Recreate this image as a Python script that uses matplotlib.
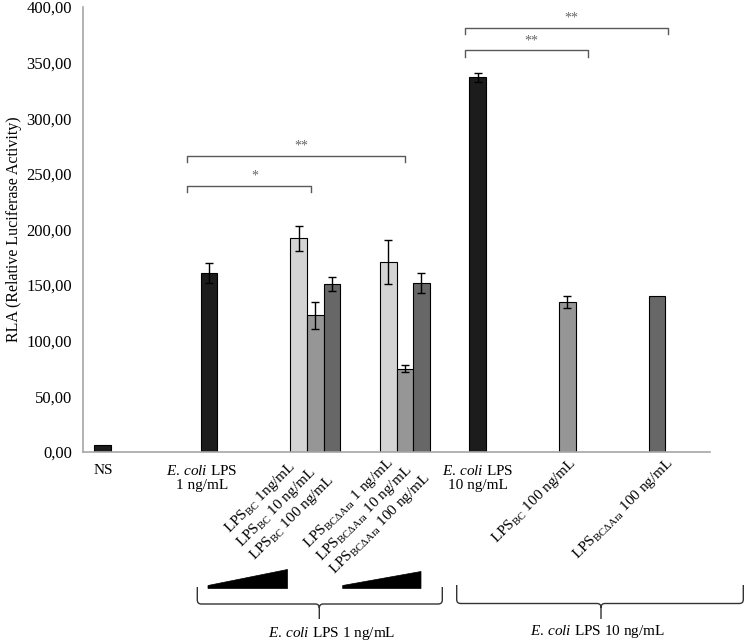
import matplotlib
matplotlib.use("Agg")
import matplotlib.pyplot as plt
from matplotlib.path import Path
from matplotlib.patches import PathPatch, Polygon
import numpy as np

plt.rcParams['font.family'] = ['Liberation Serif', 'DejaVu Serif']
plt.rcParams['mathtext.fontset'] = 'custom'
plt.rcParams['mathtext.rm'] = 'Liberation Serif'
plt.rcParams['mathtext.it'] = 'Liberation Serif:italic'

ECOLI = r"$\it{E.\,coli}$ LPS"

# data
bar_labels = [
    "NS",
    ECOLI + "\n1 ng/mL",
    r"LPS$_{\mathrm{BC}}$ 1ng/mL",
    r"LPS$_{\mathrm{BC}}$ 10 ng/mL",
    r"LPS$_{\mathrm{BC}}$ 100 ng/mL",
    r"LPS$_{\mathrm{BC\Delta Ara}}$ 1 ng/mL",
    r"LPS$_{\mathrm{BC\Delta Ara}}$ 10 ng/mL",
    r"LPS$_{\mathrm{BC\Delta Ara}}$ 100 ng/mL",
    ECOLI + "\n10 ng/mL",
    r"LPS$_{\mathrm{BC}}$ 100 ng/mL",
    r"LPS$_{\mathrm{BC\Delta Ara}}$ 100 ng/mL",
]
bar_cat = [0, 1, 2, 2, 2, 3, 3, 3, 4, 5, 6]
bar_slot = [0, 1, 1, 2, 3, 1, 2, 3, 1, 1, 1]
values = [6, 161, 192, 123, 151, 171, 75, 152, 337, 135, 140]
errors = [0, 9, 11, 12, 6, 20, 3.5, 9, 4, 5.5, 0]

# significance brackets: x start, x end, height, stars
sig_x0 = [1.16, 1.16, 4.26, 4.26]
sig_x1 = [2.55, 3.60, 5.64, 6.53]
sig_y = [239, 266, 361, 381]
sig_txt = ["*", "**", "**", "**"]

# styles
bar_colors = ['#1c1c1c', '#1c1c1c', '#d4d4d4', '#969696', '#676767',
              '#d4d4d4', '#969696', '#676767', '#1c1c1c', '#969696', '#676767']
# label offsets in px from (bar centre, axis line); rotated ones anchored top-right
lab_dx = [0, -7, -11, -8, -6, -3, -1, 1, 0, 1, 8]
lab_dy = [-12, -12, -6, -12, -20, -3, -10, -18, -12, -3, -3]
lab_rot = [0, 0, 45, 45, 45, 45, 45, 45, 0, 45, 45]

W, H = 745, 642
fig = plt.figure(figsize=(W / 100, H / 100), dpi=100)
ax = fig.add_axes([83 / W, 1 - 452 / H, 627 / W, 445 / H])

bw = 0.186
xs = np.array(bar_cat) + 0.5 + (np.array(bar_slot) - 1.5) * bw
ax.bar(xs, values, width=bw, color=bar_colors, edgecolor='black', linewidth=0.8, zorder=2)
for x, v, e in zip(xs, values, errors):
    if e > 0:
        ax.errorbar(x, v, yerr=e, fmt='none', ecolor='black', elinewidth=1,
                    capsize=3, capthick=1, zorder=3)

ax.set_xlim(0, 7)
ax.set_ylim(0, 400)
ax.set_yticks(np.arange(0, 401, 50))
ax.set_yticklabels([f"{t:.2f}".replace('.', ',') for t in np.arange(0, 401, 50)], fontsize=12)
ax.set_xticks([])
ax.tick_params(axis='y', length=0, pad=8)
for s in ['top', 'right']:
    ax.spines[s].set_visible(False)
for s in ['left', 'bottom']:
    ax.spines[s].set_color('#a6a6a6')
    ax.spines[s].set_linewidth(1.2)
ax.set_ylabel("RLA (Relative Luciferase Activity)", fontsize=11.5)
ax.yaxis.set_label_coords(-0.098, 0.5)

for x, lab, dx, dy, rot in zip(xs, bar_labels, lab_dx, lab_dy, lab_rot):
    if rot:
        ax.annotate(lab, xy=(x, 0), xycoords=('data', 'axes fraction'),
                    xytext=(dx * 0.72, dy * 0.72), textcoords='offset points',
                    rotation=rot, rotation_mode='anchor', ha='right', va='top',
                    fontsize=11, annotation_clip=False)
    else:
        ax.annotate(lab, xy=(x, 0), xycoords=('data', 'axes fraction'),
                    xytext=(dx * 0.72, dy * 0.72), textcoords='offset points',
                    ha='center', va='top', fontsize=11, linespacing=1.05,
                    annotation_clip=False)

for x0, x1, y, t in zip(sig_x0, sig_x1, sig_y, sig_txt):
    ax.plot([x0, x0, x1, x1], [y - 5.5, y, y, y - 5.5], color='#595959', lw=1, clip_on=False)
    ax.text((x0 + x1) / 2 + 0.06, y + 3, t, ha='center', va='bottom', fontsize=10,
            color='#666666')

# overlay in pixel coords for wedges and braces under the axis
ov = fig.add_axes([0, 0, 1, 1])
ov.set_xlim(0, W)
ov.set_ylim(H, 0)
ov.axis('off')
ov.patch.set_visible(False)

ov.add_patch(Polygon([(208, 585.5), (287.5, 569.5), (287.5, 588.5), (208, 588.5)],
                     closed=True, facecolor='black', edgecolor='black', lw=0.5))
ov.add_patch(Polygon([(342.7, 585.5), (421, 571.5), (421, 588.5), (342.7, 588.5)],
                     closed=True, facecolor='black', edgecolor='black', lw=0.5))


def brace(x0, x1, xm, ytop, ybar, ytip, r=4):
    verts = [(x0, ytop), (x0, ybar - r), (x0, ybar), (x0 + r, ybar),
             (xm - r, ybar), (xm, ybar), (xm, ybar + r), (xm, ytip),
             (xm, ybar + r), (xm, ybar), (xm + r, ybar),
             (x1 - r, ybar), (x1, ybar), (x1, ybar - r), (x1, ytop)]
    codes = [Path.MOVETO, Path.LINETO, Path.CURVE3, Path.CURVE3,
             Path.LINETO, Path.CURVE3, Path.CURVE3, Path.LINETO,
             Path.MOVETO, Path.CURVE3, Path.CURVE3,
             Path.LINETO, Path.CURVE3, Path.CURVE3, Path.LINETO]
    ov.add_patch(PathPatch(Path(verts, codes), facecolor='none', edgecolor='#333333', lw=1))


brace(197.3, 442.3, 319.3, 587, 604, 619)
brace(456.7, 743.3, 601, 585, 603.5, 619)

ov.text(331.7, 634, ECOLI + " 1 ng/mL", ha='center', va='center', fontsize=11)
ov.text(597, 632, ECOLI + " 10 ng/mL", ha='center', va='center', fontsize=11)

fig.savefig("out.png", dpi=100)
